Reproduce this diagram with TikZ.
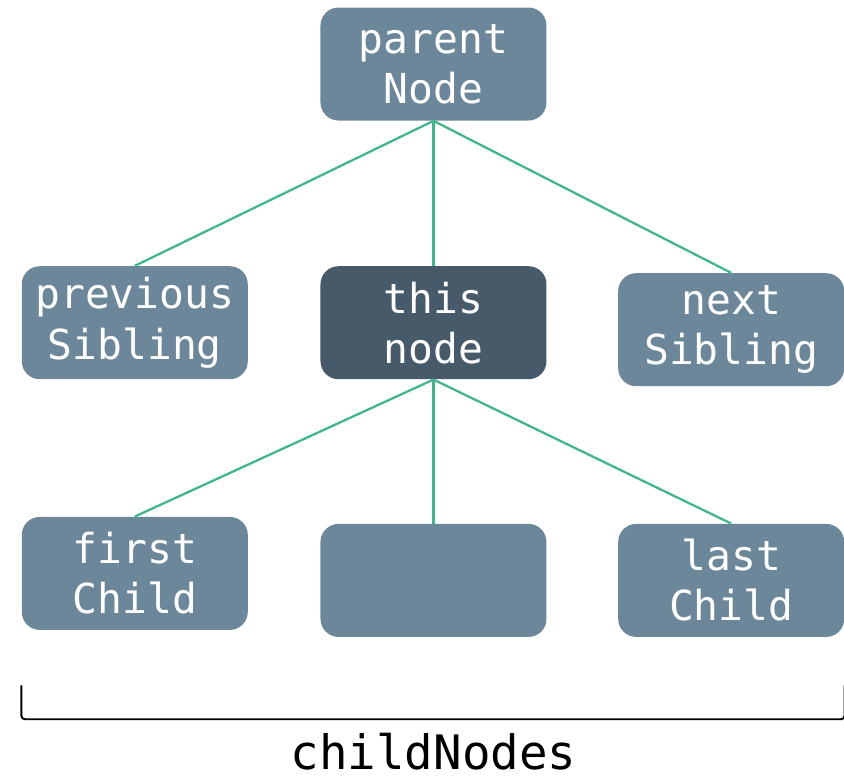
\documentclass[tikz,border=0pt]{standalone}
\usepackage{fontspec}
\setmonofont{DejaVu Sans Mono}
\usepackage{xcolor}
\usepackage{tikz}
\usetikzlibrary{positioning}
\definecolor{boxgray}{HTML}{6B8799}
\definecolor{boxdark}{HTML}{465A6A}
\definecolor{linkgreen}{HTML}{42B58A}
\tikzset{main node/.style={rectangle,rounded corners=.36cm,fill=boxgray,text=white,minimum width=4.52cm,minimum height=2.26cm,inner sep=0pt,align=center,font=\ttfamily\fontsize{23.5}{28.5}\selectfont},}

\begin{document}
\begin{tikzpicture}
    \useasboundingbox (-8.67,1.28) rectangle ++(16.88,-15.64);

    \node[main node] (parent) {parent\\Node};
    \node[main node,fill=boxdark] (this) [below = 2.9cm of parent] {this\\node};
    \node[main node] (prev) [left = 1.44cm of this] {previous\\Sibling};
    \node[main node] (next) [right = 1.42cm of this,yshift=-.14cm] {next\\Sibling};
    \node[main node] (mid) [below = 2.88cm of this] {};
    \node[main node] (first) [left = 1.44cm of mid,yshift=.14cm] {first\\Child};
    \node[main node] (last) [right = 1.42cm of mid] {last\\Child};

    \path[draw=linkgreen,line width=1.3pt]
    (parent.south) edge node {} (prev.north)
    (parent.south) edge node {} (this.north)
    (parent.south) edge node {} (next.north)
    (this.south) edge node {} (first.north)
    (this.south) edge node {} (mid.north)
    (this.south) edge node {} (last.north)
    ;

    \coordinate (bl) at ([yshift=-1.1cm]first.south west);
    \coordinate (br) at ([yshift=-.96cm]last.south east);
    \draw[line width=1.1pt,rounded corners=2pt] (bl) -- ++(0,-.68) -| (br);
    \node[font=\ttfamily\fontsize{27}{32}\selectfont,inner sep=1pt] (kids) at ([yshift=-3.42cm]mid.center) {childNodes};
\end{tikzpicture}
\end{document}
